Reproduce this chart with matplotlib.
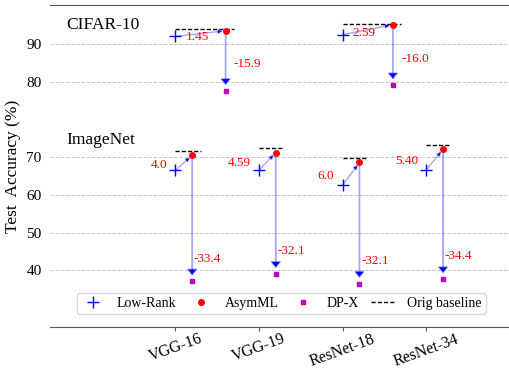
import matplotlib
matplotlib.use("Agg")
import matplotlib.pyplot as plt
from matplotlib.lines import Line2D

plt.rcParams['font.family'] = ['Liberation Serif', 'DejaVu Serif']

models = ['VGG-16', 'VGG-19', 'ResNet-18', 'ResNet-34']

# CIFAR-10 (only VGG-16 and ResNet-18 were run)
cifar_models = [0, 2]
cifar_baseline = [94.1, 95.4]
cifar_asymml = [93.5, 95.1]
cifar_lowrank_gap = ['1.45', '2.59']
cifar_dpx_drop = ['-15.9', '-16.0']

# ImageNet top-1
imnet_baseline = [71.59, 72.38, 69.76, 73.31]
imnet_asymml = [70.5, 71.2, 68.6, 72.1]
imnet_lowrank_gap = ['4.0', '4.59', '6.0', '5.40']
imnet_dpx_drop = ['-33.4', '-32.1', '-32.1', '-34.4']

# CIFAR-10 sits above ImageNet on the same axis, shifted up by 10
cifar_shift = 10
ytick_pos = [40, 50, 60, 70, 90, 100]
ytick_lab = ['40', '50', '60', '70', '80', '90']

shaft = (0.0, 0.0, 1.0, 0.35)


def draw_group(ax, xs, baseline, asym, gap, drop, shift, dx,
               gap_dx, gap_ha, gap_dy, drop_dx, drop_dy):
    for x, b, a, g, d in zip(xs, baseline, asym, gap, drop):
        lr = a - float(g)
        dp = a + float(d)
        xa = x + dx
        ax.hlines(b + shift, x, xa + 0.1, colors='black', linestyles=(0, (3, 1.5)),
                  lw=1.0, zorder=3)
        ax.annotate('', xy=(xa, a + shift), xytext=(x, lr + shift),
                    arrowprops=dict(arrowstyle='-|>', fc='blue', ec=shaft, lw=1,
                                    mutation_scale=6, shrinkA=0, shrinkB=2))
        ax.annotate('', xy=(xa, dp + shift), xytext=(xa, a + shift),
                    arrowprops=dict(arrowstyle='-|>,head_width=0.3,head_length=0.35',
                                    fc='blue', ec=shaft, lw=1.3,
                                    mutation_scale=10, shrinkA=0, shrinkB=4))
        ax.plot(x, lr + shift, '+', color='blue', ms=8, mew=1, zorder=4)
        ax.plot(xa, a + shift, 'o', color='red', ms=4, zorder=5)
        ax.plot(xa, dp + shift, 's', color='m', ms=3.5, zorder=5)
        ax.text(x + gap_dx, (a + lr) / 2 + shift + gap_dy, g,
                color='red', fontsize=9.5, ha=gap_ha, va='center')
        ax.text(xa + drop_dx, dp + shift + drop_dy, d,
                color='red', fontsize=9.5, ha='left', va='center')


fig = plt.figure(figsize=(5.1, 3.69), dpi=100)
ax = fig.add_axes([0.098, 0.114, 0.902, 0.872])

draw_group(ax, cifar_models, cifar_baseline, cifar_asymml, cifar_lowrank_gap,
           cifar_dpx_drop, cifar_shift, 0.6,
           0.12, 'left', -1.0, 0.1, 7.0)
draw_group(ax, range(len(models)), imnet_baseline, imnet_asymml, imnet_lowrank_gap,
           imnet_dpx_drop, 0, 0.2,
           -0.1, 'right', -0.5, 0.02, 6.0)

ax.text(-1.3, 105, 'CIFAR-10', fontsize=12.5, va='center')
ax.text(-1.3, 74.5, 'ImageNet', fontsize=12.5, va='center')

ax.set_xlim(-1.5, 4.0)
ax.set_ylim(25, 110.3)
ax.set_xticks(range(len(models)))
ax.set_xticklabels(models, rotation=20, fontsize=11.5)
ax.set_yticks(ytick_pos)
ax.set_yticklabels(ytick_lab, fontsize=11)
ax.set_ylabel('Test  Accuracy (%)', fontsize=12.5)
ax.yaxis.grid(True, ls='--', color='#c8c8c8', lw=0.7)
ax.set_axisbelow(True)
ax.tick_params(axis='y', length=0, pad=6)
ax.tick_params(axis='x', length=3, pad=0, color='#555555')
for side in ('left', 'right'):
    ax.spines[side].set_visible(False)
for side in ('top', 'bottom'):
    ax.spines[side].set_color('#555555')

handles = [
    Line2D([], [], ls='none', marker='+', color='blue', ms=8, mew=1),
    Line2D([], [], ls='none', marker='o', color='red', ms=4),
    Line2D([], [], ls='none', marker='s', color='m', ms=3.5),
    Line2D([], [], color='black', ls=(0, (3, 1.5)), lw=1),
]
ax.legend(handles, ['Low-Rank', 'AsymML', 'DP-X', 'Orig baseline'],
          loc='lower left', bbox_to_anchor=(0.043, 0.018, 0.92, 0.07),
          mode='expand', ncol=4, fontsize=10, frameon=True,
          edgecolor='#d0d0d0', handlelength=1.8, borderpad=0.3)

fig.savefig('out.png', dpi=100)
